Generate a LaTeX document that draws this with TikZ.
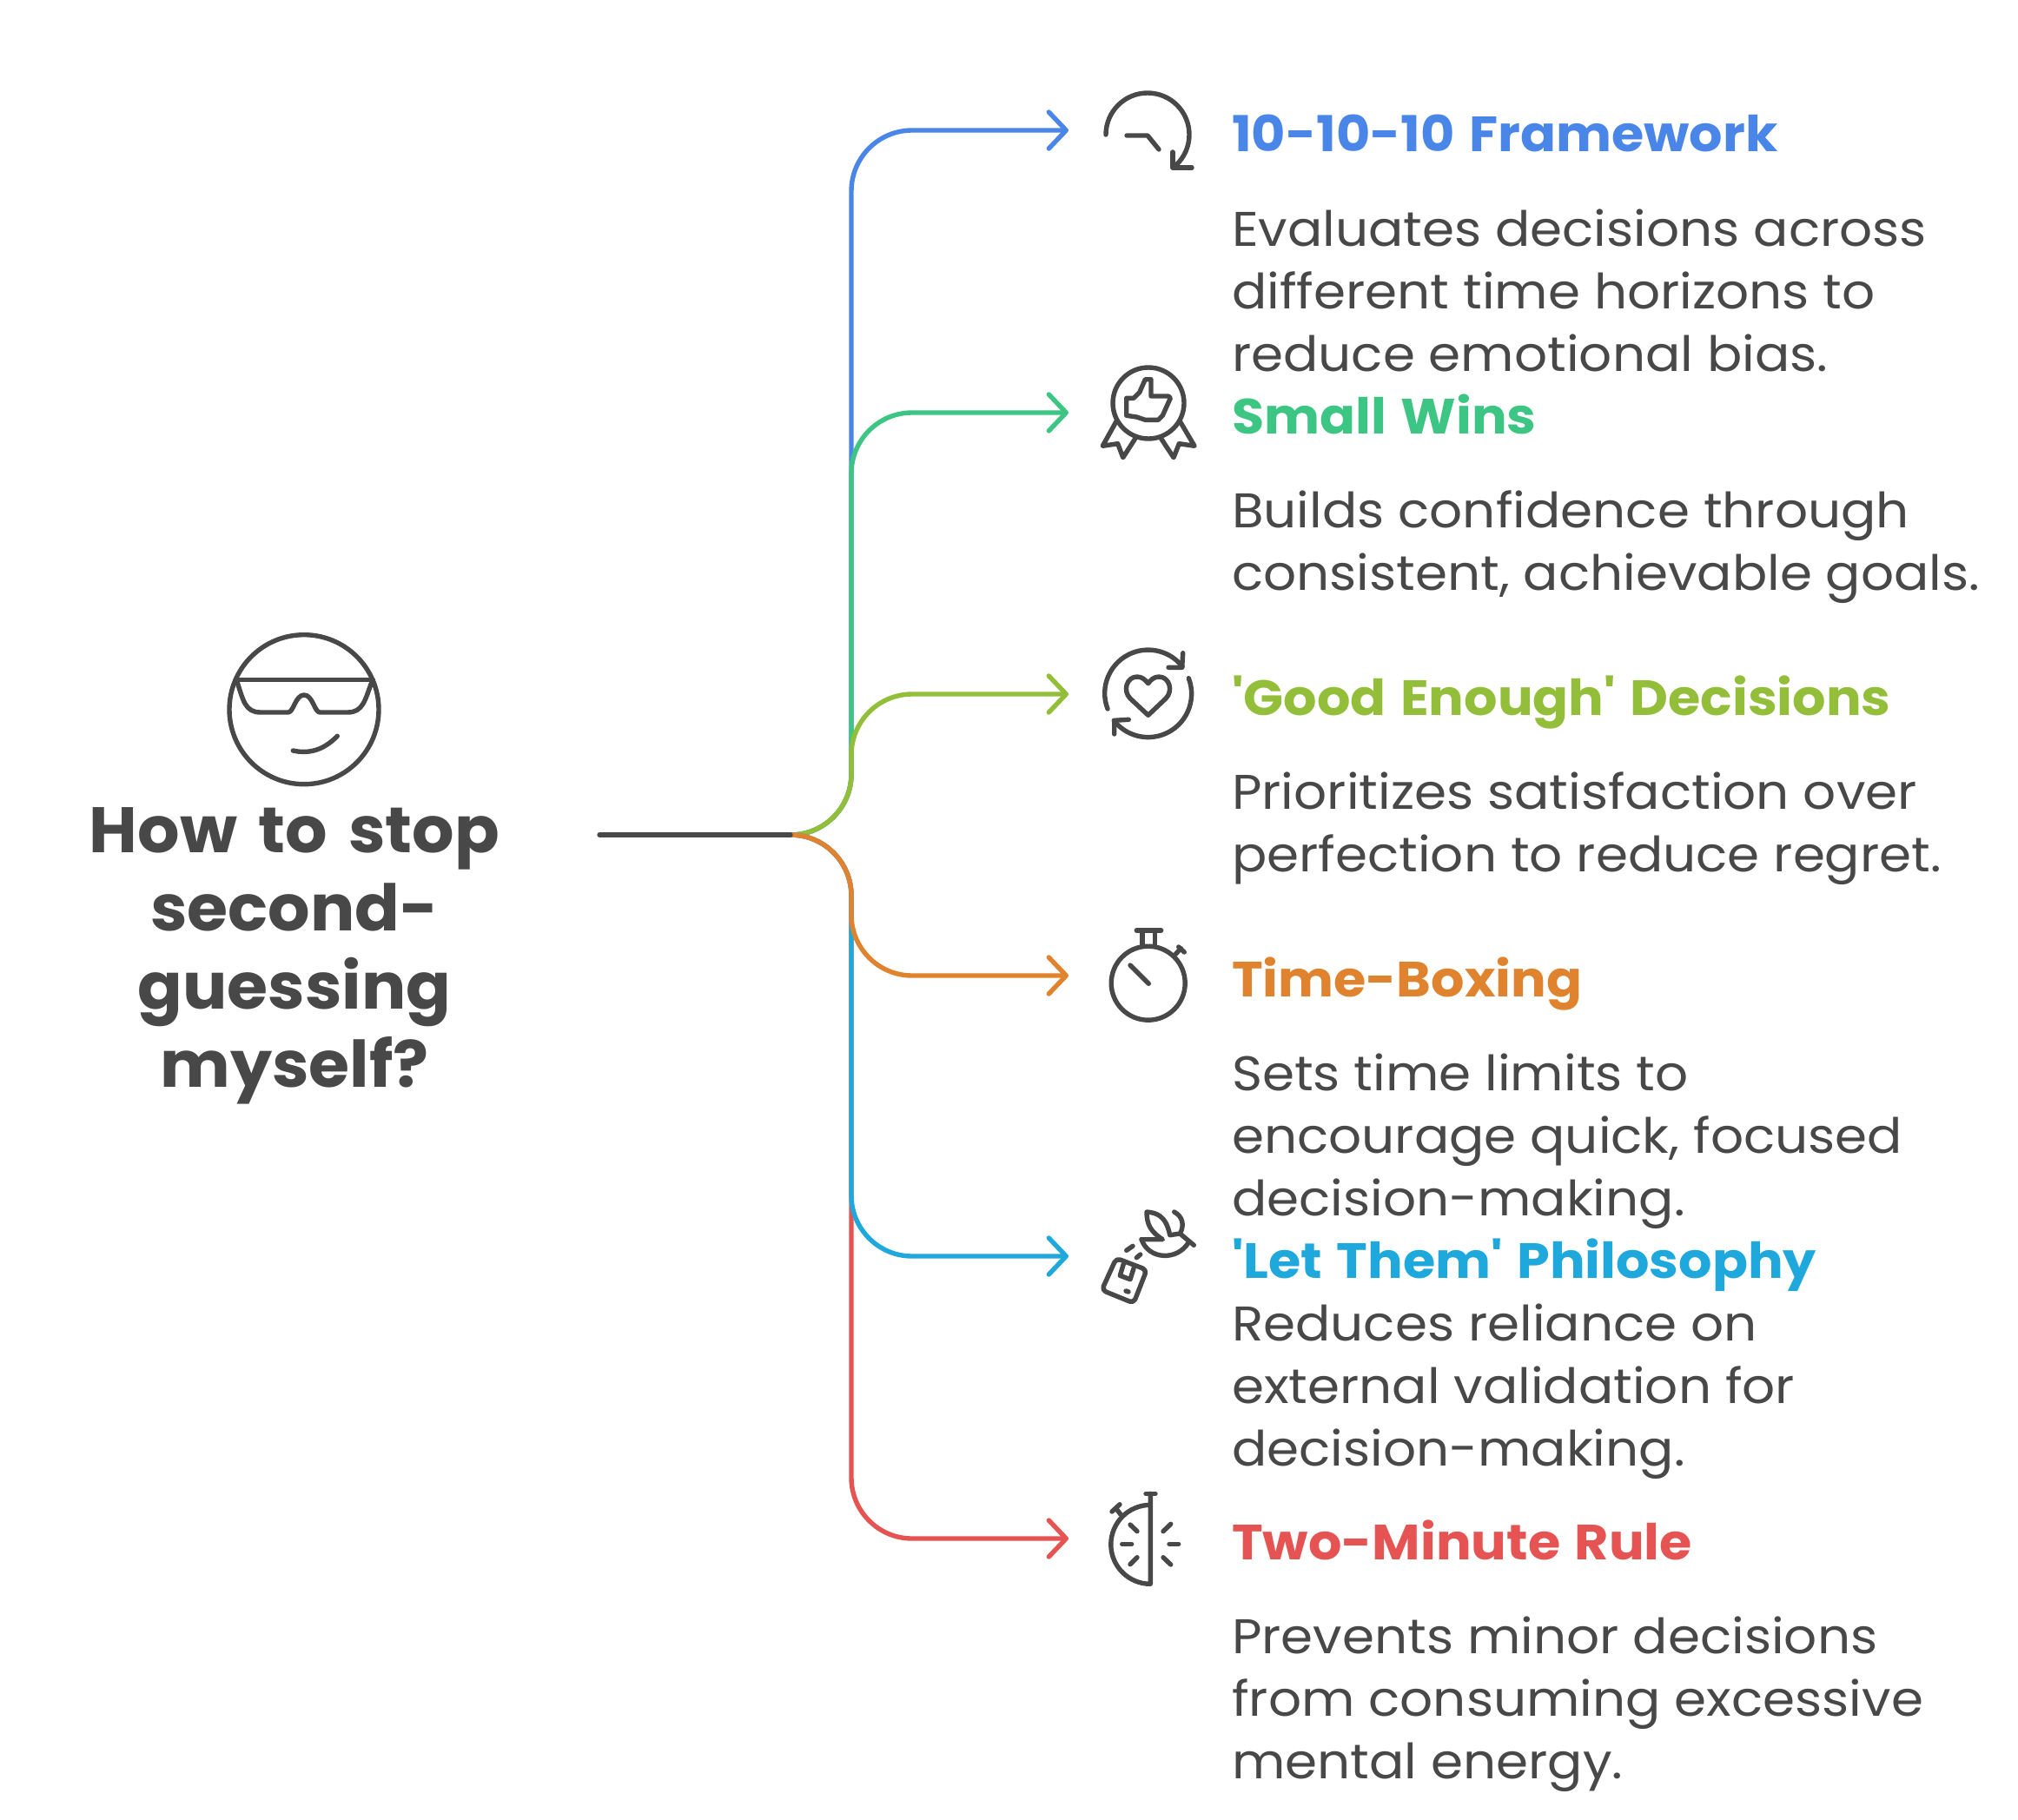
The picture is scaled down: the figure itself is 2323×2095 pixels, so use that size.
\documentclass[tikz,border=0pt]{standalone}
\usepackage{xcolor}
\usepackage{fontspec}
\usepackage{tikz}
\usetikzlibrary{arrows.meta,positioning}
\setmainfont{Poppins}[Ligatures=TeXOff]
\newfontfamily\headfont{Poppins}[Ligatures=TeXOff,FakeStretch=1.06,WordSpace=1.3]
\newfontfamily\descfont{Poppins}[Ligatures=TeXOff,FakeStretch=1.065]
\newfontfamily\titlefont{Poppins}[Ligatures=TeXOff,FakeStretch=1.03,WordSpace=1.5]
\definecolor{ink}{HTML}{484848}
\definecolor{framecol}{HTML}{4A86E8}
\definecolor{winscol}{HTML}{3CC583}
\definecolor{goodcol}{HTML}{93BE3A}
\definecolor{boxcol}{HTML}{E0832F}
\definecolor{letcol}{HTML}{1EA8DC}
\definecolor{rulecol}{HTML}{E55453}

\begin{document}
\begin{tikzpicture}[x=1pt,y=-1pt,node distance=53pt and 0pt]
    \tikzstyle{head} = [inner sep=0pt, anchor=west, font=\headfont\fontsize{57}{57}\selectfont\bfseries,
        text height=40pt, text depth=12pt]
    \tikzstyle{desc} = [inner sep=0pt, align=left, text=ink,
        font=\descfont\fontsize{56}{72}\selectfont]
    \tikzstyle{link} = [line width=5.4pt, rounded corners=70pt, -{Straight Barb[length=20pt,width=42pt,line width=5.4pt,round]}]
    \tikzstyle{icon} = [draw=ink, line width=5.4pt, line cap=round, line join=round]
    \useasboundingbox (0,0) rectangle (2323,2095);

    % title on the left
    \node (title) [align=center, text=ink, inner sep=0pt, font=\titlefont\fontsize{74}{90}\selectfont\bfseries]
        at (339,1100) {How to stop\\second-\\guessing\\myself?};
    \coordinate (start) at (690,961);
    \coordinate (fork) at (910,961);
    \coordinate (bend) at (980,961);

    % texts
    \node (frame) [head, text=framecol] at (1418,161) {10-10-10 Framework};
    \node (framedesc) [desc, below right=of frame.south west] {Evaluates decisions across\\different time horizons to\\reduce emotional bias.};
    \node (wins) [head, text=winscol] at (1418,485) {Small Wins};
    \node (winsdesc) [desc, below right=of wins.south west] {Builds confidence through\\consistent, achievable goals.};
    \node (good) [head, text=goodcol] at (1418,809) {'Good Enough' Decisions};
    \node (gooddesc) [desc, below right=of good.south west] {Prioritizes satisfaction over\\perfection to reduce regret.};
    \node (boxing) [head, text=boxcol] at (1418,1133) {Time-Boxing};
    \node (boxingdesc) [desc, below right=of boxing.south west] {Sets time limits to\\encourage quick, focused\\decision-making.};
    \node (let) [head, text=letcol] at (1418,1457) {'Let Them' Philosophy};
    \node (letdesc) [desc, below right=17pt and 0pt of let.south west] {Reduces reliance on\\external validation for\\decision-making.};
    \node (rule) [head, text=rulecol] at (1418,1781) {Two-Minute Rule};
    \node (ruledesc) [desc, below right=of rule.south west] {Prevents minor decisions\\from consuming excessive\\mental energy.};

    % arrow ends
    \coordinate (frametip) at (1230,150);
    \coordinate (winstip) at (1230,475);
    \coordinate (goodtip) at (1230,799);
    \coordinate (boxingtip) at (1230,1123);
    \coordinate (lettip) at (1230,1446);
    \coordinate (ruletip) at (1230,1771);

    \draw [link, framecol] (fork) -- (bend) |- (frametip);
    \draw [link, winscol] (fork) -- (bend) |- (winstip);
    \draw [link, goodcol] (fork) -- (bend) |- (goodtip);
    \draw [link, rulecol] (fork) -- (bend) |- (ruletip);
    \draw [link, letcol] (fork) -- (bend) |- (lettip);
    \draw [link, boxcol] (fork) -- (bend) |- (boxingtip);
    \draw [line width=5.4pt, ink, line cap=round] (start) -- (fork);

    % face
    \draw [icon] (350,816.7) circle (86);
    \draw [icon] (271.7,782.7) -- (429.3,782.7);
    \draw [icon] (273,785) .. controls (280,806) and (282,820) .. (300,820) -- (331.7,820)
        .. controls (338,820) and (340,800) .. (350,800) .. controls (360,800) and (362,820) .. (368.3,820)
        -- (400,820) .. controls (418,820) and (420,806) .. (428,785);
    \draw [icon] (337.3,864) .. controls (355,868) and (372,864) .. (388.3,847.3);

    % icon: 10-10-10
    \draw [icon] (1273,155) arc[start angle=180, end angle=-48, radius=48pt];
    \draw [icon] (1350,175) -- (1350,193) -- (1372,193);
    \draw [icon] (1297,156) -- (1321,156) -- (1334,172);

    % icon: small wins
    \draw [icon] (1322,464) circle (41);
    \draw [icon] (1296.7,458.3) -- (1305,458.3) -- (1311.7,451.7) -- (1318.3,436.7) -- (1325,436.7) -- (1325,456)
        -- (1345,456) -- (1347.3,458.3) -- (1338.3,478.3) -- (1333.3,483.3) -- (1318.3,483.3)
        -- (1308.3,480) -- (1296.7,478.3) -- cycle;
    \draw [icon] (1285,485) -- (1269.3,513.3) -- (1286.7,510.7) -- (1292.7,526.7) -- (1306.7,505);
    \draw [icon] (1358.3,485) -- (1375,513.3) -- (1357.3,510.7) -- (1351,526.7) -- (1336.7,505);

    % icon: good enough
    \draw [icon] (1275,816) arc[start angle=201, end angle=38, radius=50pt];
    \draw [icon] (1361.7,751.7) -- (1360.7,768.3) -- (1345,768.3);
    \draw [icon] (1368.3,780.7) arc[start angle=21, end angle=-142, radius=50pt];
    \draw [icon] (1282.7,845) -- (1282.7,829.3) -- (1299.3,828.3);
    \draw [icon] (1321.7,823.3) -- (1301,804) .. controls (1292,795) and (1297,779) .. (1309,779)
        .. controls (1314,779) and (1318,782) .. (1321.7,786.7) .. controls (1325,782) and (1329,779) .. (1334,779)
        .. controls (1346,779) and (1351,795) .. (1342,804) -- cycle;

    % icon: time-boxing
    \draw [icon] (1321.7,1131.7) circle (42.5);
    \draw [icon] (1308.3,1071) -- (1336.7,1071);
    \draw [icon] (1315,1071) -- (1315,1088.3);
    \draw [icon] (1329.3,1071) -- (1329.3,1088.3);
    \draw [icon] (1351.7,1100) -- (1359.3,1091.7);
    \draw [icon] (1356.7,1090) -- (1363.3,1096);
    \draw [icon] (1301,1111) -- (1322.3,1132.3);

    % icon: let them
    \draw [icon, rounded corners=5pt] (1285,1448.3) -- (1320,1461.7) -- (1305,1500) -- (1268.3,1485) -- cycle;
    \draw [icon] (1293.3,1455) -- (1289.3,1468.3) -- (1301,1472.7) -- (1305,1460);
    \draw [icon] (1296,1486) -- (1299,1487);
    \draw [icon] (1296.7,1439.3) -- (1304,1434.3);
    \draw [icon] (1308.3,1447.7) -- (1312.7,1444);
    \draw [icon] (1314,1426.7) -- (1338.3,1426.7) .. controls (1325,1418) and (1320,1410) .. (1320,1395)
        .. controls (1330,1396) and (1342,1398) .. (1346.7,1421.7) -- (1358.3,1420)
        .. controls (1364,1410) and (1361,1400) .. (1351.7,1395);
    \draw [icon] (1314,1426.7) .. controls (1322,1450) and (1355,1452) .. (1368.3,1430);
    \draw [icon] (1358.3,1420) -- (1374.3,1433.3);

    % icon: two-minute rule
    \draw [icon] (1324.3,1719.3) -- (1324.3,1823.3) arc[start angle=270, end angle=90, radius=45.5pt];
    \draw [icon] (1319,1719.3) -- (1330,1719.3);
    \draw [icon] (1301,1755) -- (1309,1762.7);
    \draw [icon] (1291.7,1777.3) -- (1302.7,1777.3);
    \draw [icon] (1301,1800.7) -- (1309,1792.7);
    \draw [icon] (1339,1762.7) -- (1347.7,1754.3);
    \draw [icon] (1346,1777.3) -- (1356.7,1777.3);
    \draw [icon] (1339,1792.7) -- (1347.7,1801);
    \draw [icon] (1290,1743.3) -- (1285,1736.7);
    \draw [icon] (1280,1740) -- (1289,1731.7);
\end{tikzpicture}
\end{document}
